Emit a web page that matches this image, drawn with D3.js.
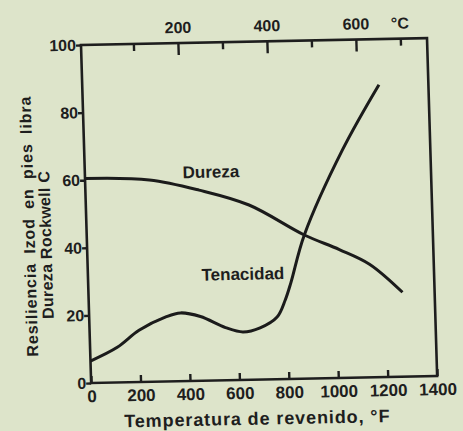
<!DOCTYPE html>
<meta charset="utf-8">
<head>
  <title>Dureza y tenacidad frente a temperatura de revenido</title>
</head>
<script src="https://d3js.org/d3.v7.min.js"></script>
<style>
  body { margin: 0; background: #dde4ca; }
  svg { display: block; }
  text { font-family: "Liberation Sans", Arial, sans-serif; font-weight: bold; fill: #1e1e1e; }
  .tick line { stroke: #1e1e1e; stroke-width: 2.4; }
</style>
<div id="chart"></div>
<script>
  // values
  var durezaF   = [0, 260, 460, 660, 880, 1020, 1140, 1270];
  var durezaHRC = [60.5, 59.7, 56.4, 51.7, 42.5, 38, 33.5, 25];

  var tenacidadF    = [0, 110, 200, 310, 370, 450, 550, 620, 690, 760, 795, 820, 880, 1045, 1200];
  var tenacidadIzod = [6.5, 10.4, 15.3, 19.1, 20.2, 19, 15.6, 14.2, 15.3, 18.4, 23.4, 28.5, 42.5, 67.5, 86.5];

  var fTicks = [0, 200, 400, 600, 800, 1000, 1200, 1400];
  var cMinor = [100, 300, 500, 700];
  var cMajor = [200, 400, 600];
  var yTicks = [0, 20, 40, 60, 80, 100];

  var width = 346, height = 338;

  var svg = d3.select("#chart")
    .append("svg")
      .attr("width", 463)
      .attr("height", 431);

  // the scan is slightly rotated / skewed, so the whole figure is too
  var g = svg.append("g")
    .attr("transform", "matrix(1,-0.02,0.03,1,81,45)");

  var x = d3.scaleLinear().domain([0, 1400]).range([0, width]);
  var xC = d3.scaleLinear().domain([-32 / 1.8, (1400 - 32) / 1.8]).range([0, width]);
  var y = d3.scaleLinear().domain([0, 100]).range([height, 0]);

  // bottom axis (F), ticks pointing in
  g.append("g")
    .attr("transform", "translate(0," + height + ")")
    .call(d3.axisBottom(x).tickValues(fTicks).tickSize(-7).tickPadding(7).tickFormat(d3.format("d")))
    .call(function(a) { a.select(".domain").remove(); })
    .selectAll("text").style("font-size", "17px");

  // left axis
  g.append("g")
    .call(d3.axisLeft(y).tickValues(yTicks).tickSize(5).tickPadding(0))
    .call(function(a) { a.select(".domain").remove(); })
    .selectAll("text").style("font-size", "16px");

  // top axis (C): minor and major ticks
  g.append("g")
    .call(d3.axisTop(xC).tickValues(cMinor).tickSize(-7).tickFormat(""))
    .call(function(a) { a.select(".domain").remove(); });
  g.append("g")
    .call(d3.axisTop(xC).tickValues(cMajor).tickSize(-12).tickPadding(10))
    .call(function(a) { a.select(".domain").remove(); })
    .selectAll("text").style("font-size", "16px");
  g.append("text")
    .attr("x", xC(700))
    .attr("y", -10)
    .attr("text-anchor", "middle")
    .style("font-size", "16px")
    .text("°C");

  // frame
  g.append("rect")
    .attr("width", width)
    .attr("height", height)
    .attr("fill", "none")
    .attr("stroke", "#1e1e1e")
    .attr("stroke-width", 2.6);

  var line = d3.line()
    .x(function(d) { return x(d[0]); })
    .y(function(d) { return y(d[1]); })
    .curve(d3.curveCatmullRom.alpha(0.5));

  g.append("path")
    .datum(d3.zip(durezaF, durezaHRC))
    .attr("d", line)
    .attr("fill", "none")
    .attr("stroke", "#1b1b1b")
    .attr("stroke-width", 3);

  g.append("path")
    .datum(d3.zip(tenacidadF, tenacidadIzod))
    .attr("d", line)
    .attr("fill", "none")
    .attr("stroke", "#1b1b1b")
    .attr("stroke-width", 3);

  // curve labels
  g.append("text")
    .attr("x", x(510)).attr("y", y(60))
    .attr("text-anchor", "middle")
    .style("font-size", "17px")
    .text("Dureza");
  g.append("text")
    .attr("x", x(627)).attr("y", y(29.6))
    .attr("text-anchor", "middle")
    .style("font-size", "17px")
    .text("Tenacidad");

  // axis titles
  g.append("text")
    .attr("x", 165).attr("y", height + 45)
    .attr("text-anchor", "middle")
    .style("font-size", "18px")
    .style("letter-spacing", "0.9px")
    .text("Temperatura de revenido, °F");

  g.append("text")
    .attr("transform", "translate(-52,180) rotate(-90)")
    .attr("text-anchor", "middle")
    .style("font-size", "16px")
    .style("letter-spacing", "0.9px")
    .style("word-spacing", "4px")
    .text("Resiliencia Izod en pies libra");

  g.append("text")
    .attr("transform", "translate(-35.5,199) rotate(-90)")
    .attr("text-anchor", "middle")
    .style("font-size", "16px")
    .style("letter-spacing", "0.3px")
    .text("Dureza Rockwell C");
</script>
